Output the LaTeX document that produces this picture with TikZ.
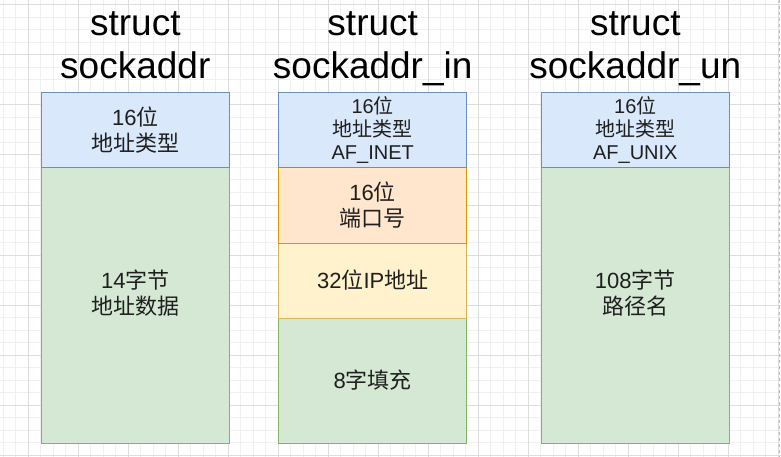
\documentclass[tikz,border=0pt]{standalone}
\usepackage{fontspec}
\setmainfont{Liberation Sans}
\newfontfamily\cjk{Noto Sans CJK SC}
\usetikzlibrary{positioning}
\definecolor{sockblue}{HTML}{DAE8FC}
\definecolor{sockblueline}{HTML}{6C8EBF}
\definecolor{sockgreen}{HTML}{D5E8D4}
\definecolor{sockgreenline}{HTML}{82B366}
\definecolor{sockorange}{HTML}{FFE6CC}
\definecolor{sockorangeline}{HTML}{D79B00}
\definecolor{sockyellow}{HTML}{FFF2CC}
\definecolor{sockyellowline}{HTML}{D6B656}
\definecolor{gridminor}{HTML}{F0F0F0}
\definecolor{gridmajor}{HTML}{DDDDDD}
\newcommand{\zh}[1]{{\cjk #1}}

\begin{document}
\begin{tikzpicture}[x=1pt,y=-1pt,
  field/.style={draw,line width=1pt,minimum width=188,inner sep=0pt,outer sep=0pt,
    align=center,text=black!88,font=\fontsize{22}{26}\selectfont},
  smallfield/.style={field,font=\fontsize{20}{23}\selectfont},
  bluefield/.style={fill=sockblue,draw=sockblueline,minimum height=75},
  greenfield/.style={fill=sockgreen,draw=sockgreenline},
  orangefield/.style={fill=sockorange,draw=sockorangeline,minimum height=75},
  yellowfield/.style={fill=sockyellow,draw=sockyellowline,minimum height=75},
  structname/.style={align=center,inner sep=0pt,font=\fontsize{37}{43}\selectfont}]
 \useasboundingbox (0,0) rectangle (781,457);
 \fill[white] (0,0) rectangle (781,457);
 % background grid
 \foreach \gx in {3.3,15.8,...,781} \draw[gridminor,line width=1pt] (\gx,0) -- (\gx,457);
 \foreach \gy in {5,17.5,...,457} \draw[gridminor,line width=1pt] (0,\gy) -- (781,\gy);
 \foreach \gx in {28.3,78.3,...,781} \draw[gridmajor,line width=1pt] (\gx,0) -- (\gx,457);
 \foreach \gy in {5,55,...,457} \draw[gridmajor,line width=1pt] (0,\gy) -- (781,\gy);
 \draw[gray!55,line width=1pt,dash pattern=on 3pt off 3pt] (779.5,0) -- (779.5,457);

 % struct sockaddr
 \node[structname] (t1) at (135.3,48) {\strut struct\\\strut sockaddr};
 \node[field,greenfield,minimum height=275,anchor=south] (data1) at (135.3,443)
   {14\zh{字节}\\\zh{地址数据}\\\mbox{}};
 \node[field,bluefield,above=0pt of data1] (typ1) {16\zh{位}\\\zh{地址类型}};

 % struct sockaddr_in
 \node[structname] (t2) at (372.7,48) {\strut struct\\\strut sockaddr\_in};
 \node[field,greenfield,minimum height=125,anchor=south] (pad2) at (372.7,443)
   {8\zh{字填充}};
 \node[field,yellowfield,above=0pt of pad2] (ip2) {32\zh{位}IP\zh{地址}};
 \node[field,orangefield,above=0pt of ip2] (port2) {16\zh{位}\\\zh{端口号}};
 \node[smallfield,bluefield,above=0pt of port2] (typ2) {16\zh{位}\\\zh{地址类型}\\AF\_INET};

 % struct sockaddr_un
 \node[structname] (t3) at (635.3,48) {\strut struct\\\strut sockaddr\_un};
 \node[field,greenfield,minimum height=275,anchor=south] (path3) at (635.3,443)
   {108\zh{字节}\\\zh{路径名}\\\mbox{}};
 \node[smallfield,bluefield,above=0pt of path3] (typ3) {16\zh{位}\\\zh{地址类型}\\AF\_UNIX};
\end{tikzpicture}
\end{document}
